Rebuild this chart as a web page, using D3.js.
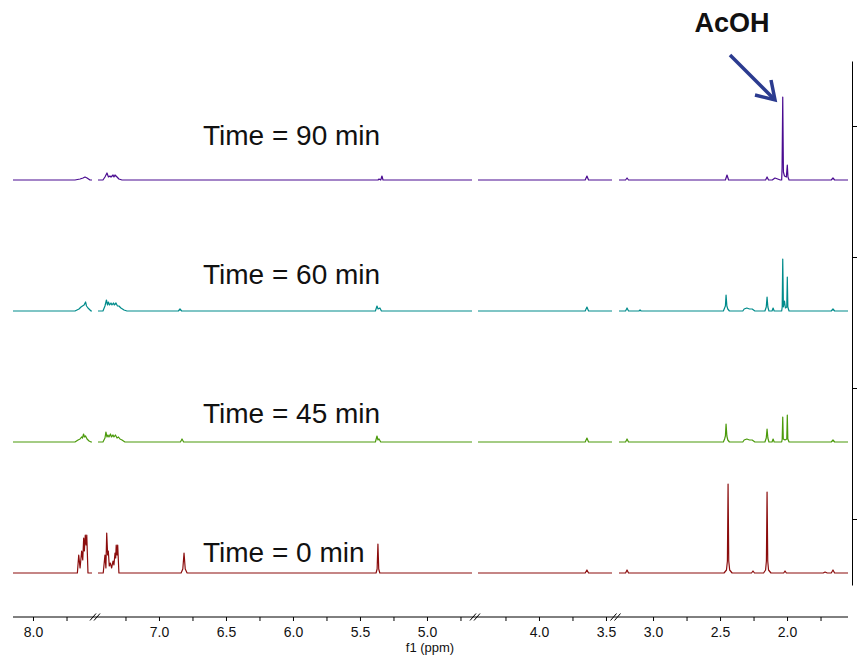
<!DOCTYPE html>
<html><head><meta charset="utf-8">
<script src="https://cdn.jsdelivr.net/npm/d3@7"></script>
<style>body{margin:0;background:#fff} svg{display:block} text{font-family:"Liberation Sans", Arial, Helvetica, sans-serif}</style>
</head><body><svg id="c" width="858" height="658"></svg>
<script>
// ---------- data ----------
const timeLabels = ["Time = 0 min", "Time = 45 min", "Time = 60 min", "Time = 90 min"];
const seriesColors = ["#8b0d0d", "#4b9a0b", "#008b8b", "#4a0c91"];
const stackOffsets = [0, 131, 262, 393];          // intensity offsets of the stacked spectra
const segmentDomains = [[8.149, 7.56], [7.455, 4.664], [4.455, 3.455], [3.254, 1.545]]; // broken ppm axis
const axisTickValues = [
  [8.0, 7.75],
  [7.25, 7.0, 6.75, 6.5, 6.25, 6.0, 5.75, 5.5, 5.25, 5.0, 4.75],
  [4.25, 4.0, 3.75, 3.5],
  [3.0, 2.75, 2.5, 2.25, 2.0, 1.75]
];
const rightTickValues = [54, 185, 316, 447];
const axisTitle = "f1 (ppm)";
const annotationText = "AcOH";

// [ppm, intensity]
const spec0 = [
  [7.669,0],[7.659,18],[7.649,5],[7.637,22],[7.629,13],[7.622,35],[7.617,22],[7.610,38],[7.604,28],[7.599,38],[7.590,0],
  [7.416,0],[7.403,18],[7.396,5],[7.390,40],[7.383,18],[7.378,22],[7.371,7],[7.363,10],[7.353,5],[7.343,12],[7.336,8],[7.328,20],[7.323,15],[7.319,28],[7.313,18],[7.308,28],[7.299,0],
  [6.835,0],[6.822,4],[6.813,20],[6.804,4],[6.790,0],
  [5.380,0],[5.372,4],[5.366,29],[5.360,4],[5.352,0],
  [3.655,0],[3.642,3],[3.630,0],
  [3.205,0],[3.194,3],[3.183,0],
  [2.470,0],[2.452,3],[2.445,12],[2.440,89],[2.435,12],[2.428,3],[2.410,0],
  [2.265,0],[2.254,2],[2.243,0],
  [2.175,0],[2.160,3],[2.154,12],[2.149,81],[2.144,12],[2.138,3],[2.120,0],
  [2.025,0],[2.015,2],[2.005,0],
  [1.730,0],[1.716,1],[1.700,0],[1.670,0],[1.657,3],[1.645,0]
];
const spec45 = [
  [7.687,0],[7.664,2],[7.649,3],[7.638,5],[7.631,4],[7.623,8],[7.616,5],[7.608,6],[7.597,3],[7.582,1],[7.567,0],
  [7.418,0],[7.403,4],[7.396,10],[7.388,5],[7.381,7],[7.373,5],[7.362,8],[7.355,5],[7.343,7],[7.336,5],[7.325,7],[7.313,4],[7.302,5],[7.291,3],[7.276,2],[7.254,0],
  [6.840,0],[6.828,3],[6.816,0],
  [5.385,0],[5.373,6],[5.366,2],[5.358,3],[5.345,0],
  [3.655,0],[3.642,4],[3.630,0],
  [3.205,0],[3.194,3],[3.183,0],
  [2.475,0],[2.466,3],[2.460,6],[2.455,18],[2.449,6],[2.442,2],[2.430,0],
  [2.330,0],[2.320,2],[2.300,3],[2.280,2],[2.260,2],[2.240,0],
  [2.165,0],[2.155,4],[2.149,13],[2.143,4],[2.135,0],
  [2.112,0],[2.104,3],[2.096,0],
  [2.040,0],[2.036,3],[2.032,25],[2.028,3],[2.015,2],[2.002,3],[1.998,27],[1.994,3],[1.985,0],
  [1.670,0],[1.657,2],[1.645,0]
];
const spec60 = [
  [7.687,0],[7.657,2],[7.642,4],[7.631,5],[7.619,6],[7.608,9],[7.601,5],[7.590,3],[7.567,0],
  [7.418,0],[7.403,5],[7.392,11],[7.384,6],[7.377,9],[7.369,6],[7.358,8],[7.351,6],[7.340,8],[7.333,6],[7.321,8],[7.310,5],[7.299,5],[7.284,3],[7.261,1],[7.239,0],
  [6.855,0],[6.843,2],[6.831,0],
  [5.385,0],[5.373,5],[5.365,2],[5.351,3],[5.340,0],
  [3.655,0],[3.642,4],[3.630,0],
  [3.205,0],[3.194,3],[3.183,0],[3.105,0],[3.097,1],[3.089,0],
  [2.475,0],[2.466,3],[2.460,5],[2.455,16],[2.449,5],[2.442,2],[2.430,0],
  [2.330,0],[2.320,2],[2.300,3],[2.280,2],[2.260,2],[2.240,0],
  [2.165,0],[2.155,4],[2.149,14],[2.143,4],[2.135,0],
  [2.112,0],[2.104,3],[2.096,0],
  [2.040,0],[2.036,4],[2.032,52],[2.027,4],[2.019,10],[2.012,3],[2.002,4],[1.998,34],[1.994,4],[1.985,0],
  [1.670,0],[1.657,2],[1.645,0]
];
const spec90 = [
  [7.687,0],[7.649,1],[7.627,2],[7.612,3],[7.597,2],[7.575,0],
  [7.418,0],[7.403,3],[7.388,7],[7.377,3],[7.366,4],[7.358,3],[7.343,5],[7.336,3],[7.328,5],[7.313,3],[7.299,1],[7.276,0],
  [5.365,0],[5.358,1],[5.345,0],[5.336,4],[5.328,0],
  [3.655,0],[3.642,4],[3.630,0],
  [3.205,0],[3.194,2],[3.183,0],
  [2.460,0],[2.448,5],[2.436,0],
  [2.160,0],[2.149,3],[2.138,0],
  [2.110,0],[2.090,2],[2.070,1],[2.050,0],
  [2.040,0],[2.037,12],[2.032,83],[2.027,8],[2.019,4],[2.005,3],[1.998,15],[1.993,3],[1.985,0],
  [1.670,0],[1.657,2],[1.645,0]
];
const spectra = [spec0, spec45, spec60, spec90];

// ---------- layout ----------
const svg = d3.select("#c");
const segmentRanges = [[13, 92], [98, 472], [478, 612], [619, 848]];
const axisY = 617, rightAxisX = 852;
const labelX = 203, labelBaselines = [562, 423, 284, 145];

const xScales = segmentDomains.map((d, i) => d3.scaleLinear().domain(d).range(segmentRanges[i]));
const y = d3.scaleLinear().domain([-12, 512]).range([585, 61]);

// spectra
spectra.forEach((spec, i) => {
  const sorted = spec.slice().sort((a, b) => b[0] - a[0]);
  xScales.forEach(xs => {
    const [hi, lo] = xs.domain();
    const pts = [[hi, 0], ...sorted.filter(p => p[0] < hi && p[0] > lo), [lo, 0]];
    const line = d3.line().x(d => xs(d[0])).y(d => y(stackOffsets[i] + d[1]));
    svg.append("path").attr("d", line(pts))
      .attr("fill", "none").attr("stroke", seriesColors[i])
      .attr("stroke-width", 1.2).attr("stroke-linejoin", "round");
  });
});

// bottom broken axis
const gx = svg.append("g").attr("transform", `translate(0,${axisY})`);
gx.append("line").attr("x1", segmentRanges[0][0]).attr("x2", segmentRanges[3][1])
  .attr("y1", 0).attr("y2", 0).attr("stroke", "#000").attr("stroke-width", 1);
xScales.forEach((xs, i) => {
  const ax = d3.axisBottom(xs).tickValues(axisTickValues[i]).tickSize(4).tickSizeOuter(0).tickPadding(6)
    .tickFormat(d => Math.abs(d * 2 - Math.round(d * 2)) < 1e-6 ? d.toFixed(1) : "");
  const g = gx.append("g").call(ax);
  g.select(".domain").remove();
  g.attr("font-size", 14).attr("font-family", "Liberation Sans, Arial, sans-serif");
  g.selectAll("text").attr("fill", "#111");
});
// break marks
for (let i = 0; i < segmentRanges.length - 1; i++) {
  const c = (segmentRanges[i][1] + segmentRanges[i + 1][0]) / 2;
  [-5, -1].forEach(o => {
    gx.append("line").attr("x1", c + o).attr("y1", 3.5).attr("x2", c + o + 6).attr("y2", -3.5)
      .attr("stroke", "#000").attr("stroke-width", 1);
  });
}
svg.append("text").attr("x", 430).attr("y", 652).attr("text-anchor", "middle")
  .attr("font-size", 13).attr("fill", "#111").text(axisTitle);

// right intensity axis
const gy = svg.append("g").attr("transform", `translate(${rightAxisX},0)`)
  .call(d3.axisRight(y).tickValues(rightTickValues).tickSize(5).tickSizeOuter(0).tickFormat(""));
gy.select(".domain").attr("stroke", "#000");

// time labels
timeLabels.forEach((t, i) => {
  svg.append("text").attr("x", labelX).attr("y", labelBaselines[i])
    .attr("font-size", 28).attr("fill", "#111").text(t);
});

// AcOH annotation
svg.append("text").attr("x", 732).attr("y", 32).attr("text-anchor", "middle")
  .attr("font-size", 27).attr("font-weight", "bold").attr("fill", "#111").text(annotationText);
const arrowColor = "#2b3b8f";
svg.append("line").attr("x1", 730).attr("y1", 55).attr("x2", 774).attr("y2", 99)
  .attr("stroke", arrowColor).attr("stroke-width", 3.5);
svg.append("path").attr("d", "M755,95 L775,100 L771,80")
  .attr("fill", "none").attr("stroke", arrowColor).attr("stroke-width", 3.5).attr("stroke-linejoin", "miter");
</script></body></html>
